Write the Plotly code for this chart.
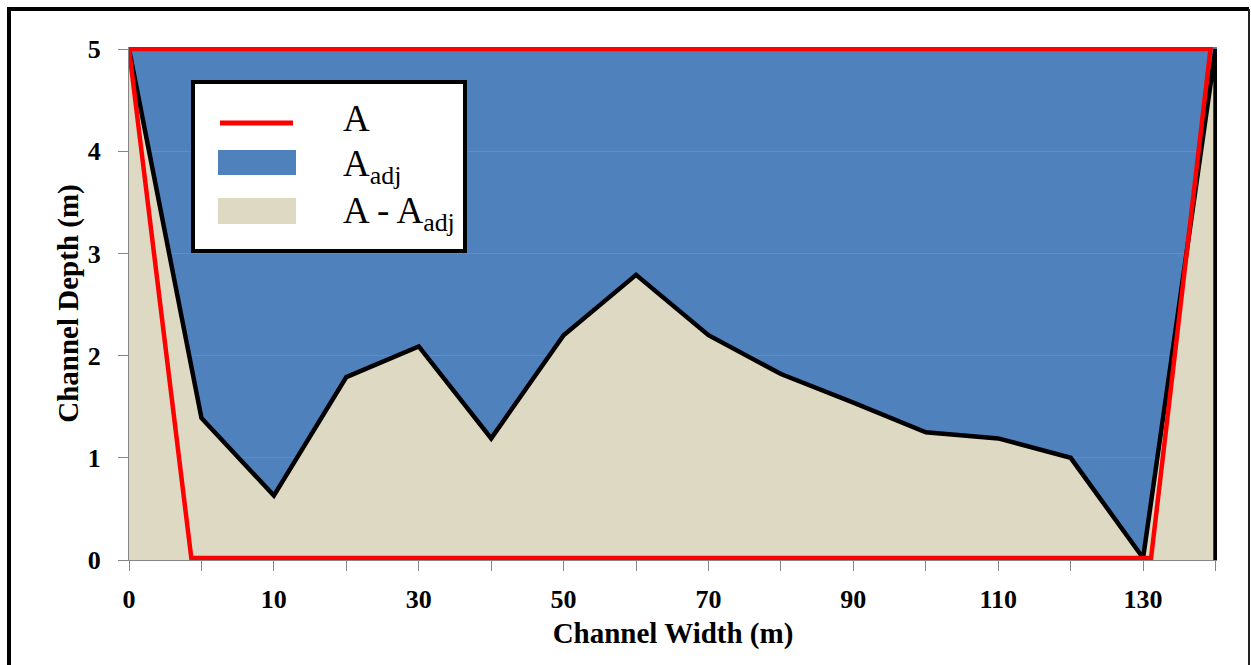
import plotly.graph_objects as go

# ---- data ----
tick_labels = ["0", "10", "30", "50", "70", "90", "110", "130"]
tick_pos = [0, 2, 4, 6, 8, 10, 12, 14]          # category positions of the labelled ticks
bed_pos = list(range(16))                      # category positions of bed samples
bed_depth = [5.0, 1.39, 0.63, 1.79, 2.09, 1.19, 2.2, 2.79, 2.2, 1.82, 1.54, 1.25, 1.19, 1.0, 0.02, 5.0]
edge_pos = [15, 15]
edge_depth = [5.0, 0.0]
A_pos = [0, 0.86, 14.11, 14.93, 0]
A_depth = [5.0, 0.02, 0.02, 5.0, 5.0]

BLUE = "#4F81BD"
TAN = "#DDD9C3"
RED = "#FF0000"
GRID = "#868686"
FONT = "Liberation Serif"

# ---- layout geometry ----
W_PX, H_PX = 1251, 665
L, T = 129, 47
PW, PH = 1088, 513


def px_x(p):
    return (p - L) / PW


def px_y(p):
    return (T + PH - p) / PH


fig = go.Figure()

# A - A_adj (area below bed)
fig.add_trace(go.Scatter(
    x=bed_pos + edge_pos[1:], y=bed_depth + edge_depth[1:],
    mode="lines", fill="tozeroy", fillcolor=TAN,
    line=dict(color="black", width=4.5), name="A - A<sub>adj</sub>",
    showlegend=False, hoverinfo="skip"))

# A (red outline)
fig.add_trace(go.Scatter(
    x=A_pos, y=A_depth, mode="lines",
    line=dict(color=RED, width=4.5), name="A", showlegend=False,
    hoverinfo="skip"))

shapes = []
# legend box
shapes.append(dict(type="rect", xref="paper", yref="paper",
                   x0=px_x(193), x1=px_x(465), y0=px_y(251), y1=px_y(82),
                   fillcolor="white", line=dict(color="black", width=4), layer="above"))
shapes.append(dict(type="line", xref="paper", yref="paper",
                   x0=px_x(220), x1=px_x(293), y0=px_y(123), y1=px_y(123),
                   line=dict(color=RED, width=5), layer="above"))
shapes.append(dict(type="rect", xref="paper", yref="paper",
                   x0=px_x(218), x1=px_x(296), y0=px_y(175), y1=px_y(150),
                   fillcolor=BLUE, line=dict(width=0), layer="above"))
shapes.append(dict(type="rect", xref="paper", yref="paper",
                   x0=px_x(218), x1=px_x(296), y0=px_y(224), y1=px_y(198),
                   fillcolor=TAN, line=dict(width=0), layer="above"))
# outer frame
shapes.append(dict(type="line", xref="paper", yref="paper",
                   x0=px_x(9), x1=px_x(9), y0=px_y(7), y1=px_y(680),
                   line=dict(color="black", width=4), layer="above"))
shapes.append(dict(type="line", xref="paper", yref="paper",
                   x0=px_x(7), x1=px_x(1249), y0=px_y(9), y1=px_y(9),
                   line=dict(color="black", width=4), layer="above"))
shapes.append(dict(type="line", xref="paper", yref="paper",
                   x0=px_x(1249), x1=px_x(1249), y0=px_y(9), y1=px_y(680),
                   line=dict(color="#222222", width=2), layer="above"))

annotations = []
leg_font = dict(family=FONT, size=37, color="black")
for txt, yc in [("A", 118), ("A<sub>adj</sub>", 166), ("A - A<sub>adj</sub>", 213)]:
    annotations.append(dict(text=txt, xref="paper", yref="paper",
                            x=px_x(341), y=px_y(yc), xanchor="left", yanchor="middle",
                            showarrow=False, font=leg_font))

fig.update_layout(
    width=W_PX, height=H_PX,
    margin=dict(l=L, r=W_PX - L - PW, t=T, b=H_PX - T - PH, autoexpand=False),
    paper_bgcolor="white", plot_bgcolor=BLUE,
    showlegend=False,
    shapes=shapes, annotations=annotations,
    font=dict(family=FONT, color="black"),
)
fig.update_xaxes(
    range=[0, 15.02], tickvals=tick_pos, ticktext=tick_labels,
    ticks="outside", ticklen=10, tickcolor=GRID, tickwidth=1,
    minor=dict(dtick=1, tick0=0, ticks="outside", ticklen=10, tickcolor=GRID, tickwidth=1, showgrid=False),
    showgrid=False, zeroline=False, showline=True, linecolor=GRID, linewidth=1,
    tickfont=dict(family=FONT, size=26, color="black", weight="bold"),
    ticklabelstandoff=6,
    title=dict(text="<b>Channel Width (m)</b>", font=dict(family=FONT, size=29, color="black"), standoff=9),
    automargin=False,
)
fig.update_yaxes(
    range=[0, 5.02], tickvals=[0, 1, 2, 3, 4, 5],
    ticks="outside", ticklen=10, tickcolor=GRID, tickwidth=1,
    showgrid=True, gridcolor=GRID, gridwidth=1, zeroline=False,
    showline=True, linecolor=GRID, linewidth=1,
    tickfont=dict(family=FONT, size=26, color="black", weight="bold"),
    ticklabelstandoff=12,
    title=dict(text="<b>Channel Depth (m)</b>", font=dict(family=FONT, size=29, color="black"), standoff=0),
    automargin=False,
)

fig.write_html("out.html")
